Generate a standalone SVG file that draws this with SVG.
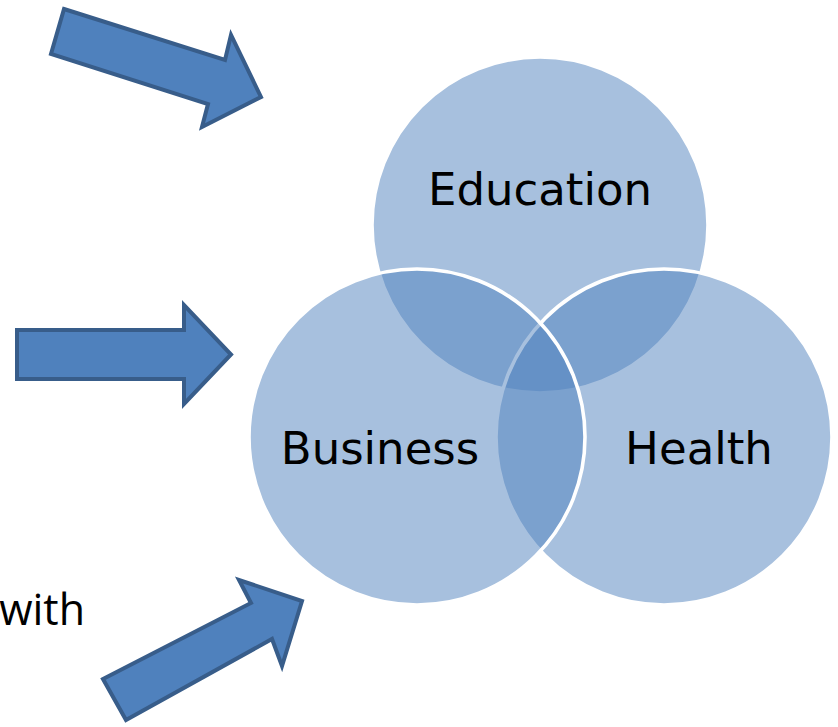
<svg xmlns="http://www.w3.org/2000/svg" width="838" height="727" viewBox="0 0 838 727">
<style>
.arrow{fill:#4F81BD;stroke:#385D8A;stroke-width:4;stroke-linejoin:miter}
.venn{fill:#4F81BD;fill-opacity:0.5;stroke:#FFFFFF;stroke-width:3.6}
.lbl{font-family:"DejaVu Sans",sans-serif;font-size:45px;fill:#000000;text-anchor:middle}
.side{font-family:"Open Sans",sans-serif;font-size:43px;fill:#000000;text-anchor:end}
</style>
<rect x="0" y="0" width="838" height="727" fill="#FFFFFF"/>
<g id="side-text">
<text class="side" x="85" y="625">with</text>
</g>
<g id="connectors">
<polygon id="arrow-top" class="arrow" points="64,9 225,60 231,35 261,97 202,127 208,104 51,54"/>
<polygon id="arrow-middle" class="arrow" points="17,330 184,330 184,305 231,354.5 184,404 184,379 17,379"/>
<polygon id="arrow-bottom" class="arrow" points="103,679 251,603 239,580 302,601 282,666 272,639 126,720"/>
</g>
<g id="node-education">
<circle class="venn" cx="540" cy="225" r="168"/>
</g>
<g id="node-health">
<circle class="venn" cx="664" cy="437" r="168"/>
</g>
<g id="node-business">
<circle class="venn" cx="417" cy="437" r="168"/>
</g>
<g id="labels">
<text class="lbl" x="540" y="205">Education</text>
<text class="lbl" x="380" y="464">Business</text>
<text class="lbl" x="699" y="464">Health</text>
</g>
</svg>
